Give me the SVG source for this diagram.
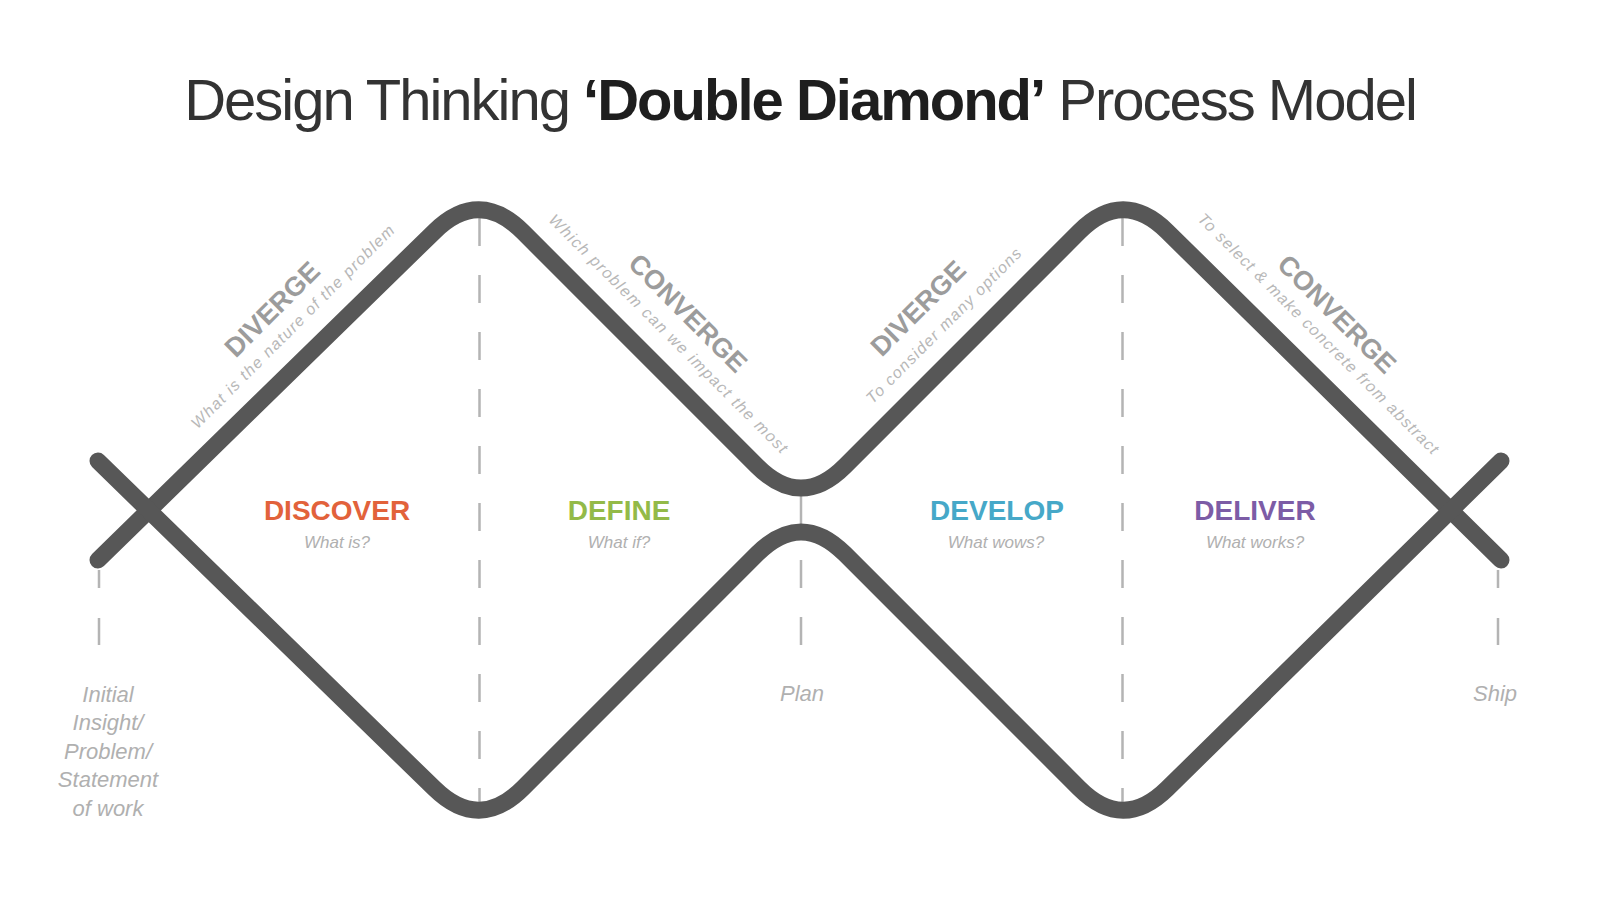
<svg xmlns="http://www.w3.org/2000/svg" width="1600" height="901" viewBox="0 0 1600 901">
<style>
.title{font-family:"Liberation Sans",Arial,sans-serif;font-size:58px;fill:#333;letter-spacing:-2px}
.title .b{font-weight:bold;fill:#1e1e1e}
.curve{fill:none;stroke:#575757;stroke-width:17;stroke-linecap:round;stroke-linejoin:round}
.dash{stroke:#b4b4b4;stroke-width:2.5;stroke-dasharray:28 29;fill:none}
.solid{stroke:#b4b4b4;stroke-width:2.5;fill:none}
.phase{font-family:"Liberation Sans",Arial,sans-serif;font-weight:bold;font-size:28px;text-anchor:middle}
.q{font-family:"Liberation Sans",Arial,sans-serif;font-style:italic;font-size:17px;fill:#b0b0b0;text-anchor:middle}
.dlab{font-family:"Liberation Sans",Arial,sans-serif;font-weight:bold;font-size:27px;fill:#9c9c9c;text-anchor:middle}
.dsub{font-family:"Liberation Sans",Arial,sans-serif;font-style:italic;font-size:16px;fill:#b8b8b8;text-anchor:middle}
.ms{font-family:"Liberation Sans",Arial,sans-serif;font-style:italic;font-size:22px;fill:#b0b0b0;text-anchor:middle}
</style>
<rect width="1600" height="901" fill="#fff"/>
<g id="title">
<text class="title" x="800" y="120" text-anchor="middle">Design Thinking <tspan class="b">‘Double Diamond’</tspan> Process Model</text>
</g>
<g id="connectors">
<line class="dash" x1="479.5" y1="218" x2="479.5" y2="810"/>
<line class="dash" x1="1122.5" y1="218" x2="1122.5" y2="810"/>
<line class="solid" x1="801" y1="490" x2="801" y2="532"/>
<line class="dash" x1="801" y1="560" x2="801" y2="645"/>
<line class="dash" x1="99" y1="570" x2="99" y2="645" style="stroke-dasharray:18 30 27 30"/>
<line class="dash" x1="1498" y1="570" x2="1498" y2="645" style="stroke-dasharray:18 30 27 30"/>
<path id="upper" class="curve" d="M 98 560 L 434.6 231.3 Q 479 188 522.8 231.8 L 757.2 466.2 Q 801 510 844.8 466.2 L 1079.2 231.8 Q 1123 188 1167.2 231.5 L 1501 560"/>
<path id="lower" class="curve" d="M 98 461 L 434.6 788.7 Q 479 832 522.8 788.2 L 757.2 553.8 Q 801 510 844.8 553.8 L 1079.2 788.2 Q 1123 832 1167.2 788.6 L 1501 461"/>
</g>
<g id="discover">
<text class="phase" x="337" y="520" fill="#e2623b">DISCOVER</text>
<text class="q" x="337" y="548">What is?</text>
</g>
<g id="define">
<text class="phase" x="619" y="520" fill="#93ba48">DEFINE</text>
<text class="q" x="619" y="548">What if?</text>
</g>
<g id="develop">
<text class="phase" x="997" y="520" fill="#46a8c8">DEVELOP</text>
<text class="q" x="996" y="548">What wows?</text>
</g>
<g id="deliver">
<text class="phase" x="1255" y="520" fill="#7c5ca6">DELIVER</text>
<text class="q" x="1255" y="548">What works?</text>
</g>
<g id="diverge1">
<text class="dlab" transform="translate(272,309) rotate(-45)" x="0" y="9.5">DIVERGE</text>
<text class="dsub" transform="translate(293,327) rotate(-45)" x="0" y="5" textLength="280" lengthAdjust="spacing">What is the nature of the problem</text>
</g>
<g id="converge1">
<text class="dlab" transform="translate(688,313) rotate(45)" x="0" y="9.5">CONVERGE</text>
<text class="dsub" transform="translate(668,334) rotate(45)" x="0" y="5" textLength="330" lengthAdjust="spacing">Which problem can we impact the most</text>
</g>
<g id="diverge2">
<text class="dlab" transform="translate(918,308) rotate(-45)" x="0" y="9.5">DIVERGE</text>
<text class="dsub" transform="translate(944,326) rotate(-45)" x="0" y="5" textLength="212" lengthAdjust="spacing">To consider many options</text>
</g>
<g id="converge2">
<text class="dlab" transform="translate(1337,314) rotate(45)" x="0" y="9.5">CONVERGE</text>
<text class="dsub" transform="translate(1318,334) rotate(45)" x="0" y="5" textLength="333" lengthAdjust="spacing">To select &amp; make concrete from abstract</text>
</g>
<g id="start">
<text class="ms" x="108"><tspan x="108" y="702">Initial</tspan><tspan x="108" y="730">Insight/</tspan><tspan x="108" y="759">Problem/</tspan><tspan x="108" y="787">Statement</tspan><tspan x="108" y="816">of work</tspan></text>
</g>
<g id="plan">
<text class="ms" x="802" y="701">Plan</text>
</g>
<g id="ship">
<text class="ms" x="1495" y="701">Ship</text>
</g>
</svg>
